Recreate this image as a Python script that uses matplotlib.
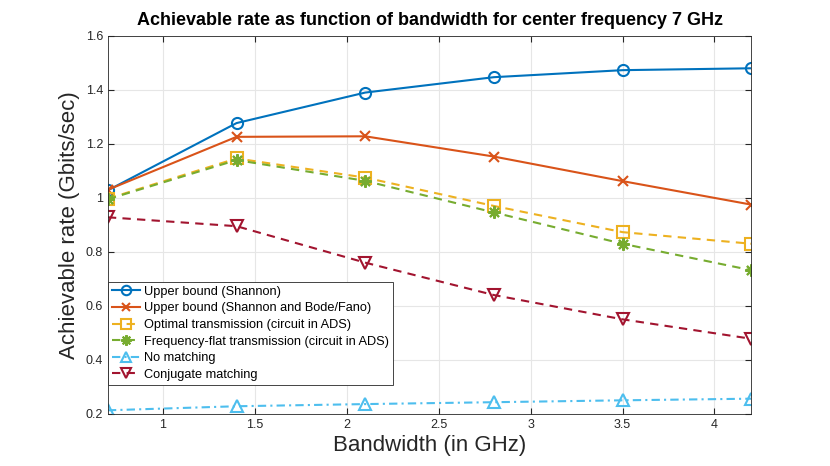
from matplotlib import pyplot as plt
from matplotlib.ticker import FormatStrFormatter

plt.rcParams['font.family'] = ['Liberation Sans', 'DejaVu Sans']

bandwidth = [0.7, 1.4, 2.1, 2.8, 3.5, 4.2]
shannon = [1.028, 1.277, 1.390, 1.447, 1.473, 1.480]
bode_fano = [1.030, 1.226, 1.228, 1.153, 1.062, 0.975]
optimal_ads = [0.997, 1.146, 1.075, 0.970, 0.873, 0.830]
flat_ads = [0.995, 1.140, 1.063, 0.946, 0.830, 0.732]
no_matching = [0.213, 0.228, 0.236, 0.243, 0.250, 0.256]
conjugate = [0.928, 0.895, 0.760, 0.640, 0.550, 0.478]

labels = ['Upper bound (Shannon)',
          'Upper bound (Shannon and Bode/Fano)',
          'Optimal transmission (circuit in ADS)',
          'Frequency-flat transmission (circuit in ADS)',
          'No matching',
          'Conjugate matching']

fig = plt.figure(figsize=(8.3, 4.66), dpi=100)
ax = fig.add_axes([0.13, 0.112, 0.775, 0.811])

kw = dict(linewidth=1.5, markersize=8, markerfacecolor='none', markeredgewidth=1.5)
ax.plot(bandwidth, shannon, '-o', color='#0072BD', label=labels[0], **kw)
ax.plot(bandwidth, bode_fano, '-x', color='#D95319', label=labels[1],
        **dict(kw, markersize=7))
ax.plot(bandwidth, optimal_ads, '--s', color='#EDB120', label=labels[2],
        dashes=(4, 3), **kw)
# matlab style asterisk
ax.plot(bandwidth, flat_ads, '--', marker=(8, 2, 0), color='#77AC30',
        label=labels[3], dashes=(4, 3), **dict(kw, markersize=9))
ax.plot(bandwidth, no_matching, '-.^', color='#4DBEEE', label=labels[4],
        dashes=(4, 2, 1, 2), **kw)
ax.plot(bandwidth, conjugate, '--v', color='#A2142F', label=labels[5],
        dashes=(4, 3), **kw)

ax.set_xlim(0.7, 4.2)
ax.set_ylim(0.2, 1.6)
ax.set_xticks([1, 1.5, 2, 2.5, 3, 3.5, 4])
ax.set_yticks([0.2, 0.4, 0.6, 0.8, 1.0, 1.2, 1.4, 1.6])
ax.xaxis.set_major_formatter(FormatStrFormatter('%g'))
ax.yaxis.set_major_formatter(FormatStrFormatter('%g'))
ax.tick_params(direction='in', top=True, right=True, labelsize=9,
               colors='#262626', length=4)
ax.grid(True, color='#e6e6e6', linewidth=0.8)
ax.set_axisbelow(True)
for s in ax.spines.values():
    s.set_color('#262626')
    s.set_linewidth(0.6)

ax.set_xlabel('Bandwidth (in GHz)', fontsize=16, color='#262626', labelpad=3)
ax.set_ylabel('Achievable rate (Gbits/sec)', fontsize=16, color='#262626')
ax.set_title('Achievable rate as function of bandwidth for center frequency 7 GHz',
             fontsize=13, fontweight='bold', pad=8)

leg = ax.legend(loc='lower left', bbox_to_anchor=(0.0, 0.077), fontsize=9.2,
                fancybox=False, edgecolor='#262626', framealpha=1,
                handlelength=2.2, borderpad=0.3, labelspacing=0.36,
                handletextpad=0.3, borderaxespad=0, markerscale=0.85)
leg.get_frame().set_linewidth(0.6)

fig.savefig('out.png', dpi=100)
